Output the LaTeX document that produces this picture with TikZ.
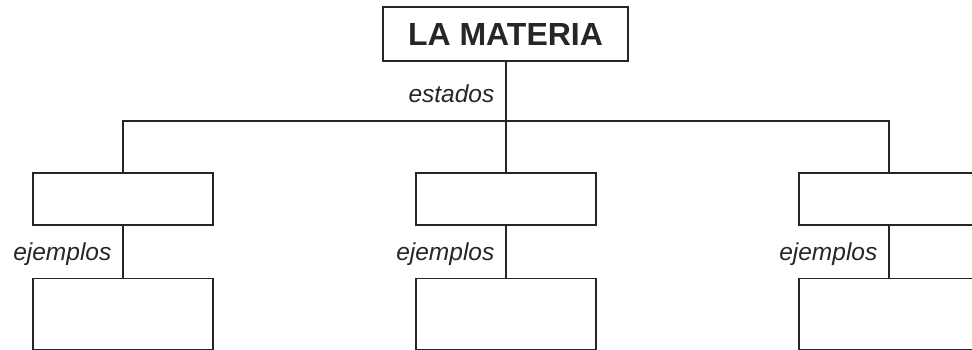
\documentclass[tikz,border=0pt]{standalone}
\usepackage{fontspec}
\setmainfont{Liberation Sans}
\usetikzlibrary{positioning}
\tikzset{
    block/.style = {draw, rectangle, line width=1.6pt, color=black!85,
        minimum width=180pt, inner sep=0pt},
    upper/.style = {block, minimum height=52pt},
    lower/.style = {block, minimum height=71pt},
    title/.style = {draw, rectangle, line width=1.6pt, color=black!85,
        minimum width=245pt, minimum height=54pt, inner sep=0pt,
        font=\fontsize{32}{36}\selectfont\bfseries},
    link/.style = {draw, line width=1.3pt, color=black!85},
    tag/.style = {anchor=east, inner sep=0pt, xshift=-11pt, yshift=-2pt,
        font=\fontsize{24.5}{28}\selectfont\itshape}
}

\begin{document}
\begin{tikzpicture}[x=1pt, y=1pt]
        \useasboundingbox (0,0) rectangle (972,350);
        \clip (0,0) rectangle (972,350);
        \node [title] (materia) at (505.5,316) {LA MATERIA};
        \coordinate (split) at (506,229);
        % estados
        \node [upper] (state1) at (123,151) {};
        \node [upper] (state2) at (506,151) {};
        \node [upper] (state3) at (889,151) {};
        % ejemplos
        \node [lower, below=52pt of state1] (ex1) {};
        \node [lower, below=52pt of state2] (ex2) {};
        \node [lower, below=52pt of state3] (ex3) {};
        \draw [link] (materia.south -| split) -- node [tag, pos=0.5, yshift=0pt] {estados} (split);
        \draw [link] (state1) |- (split);
        \draw [link] (state3) |- (split);
        \draw [link] (split) -- (state2);
        \foreach \i in {1,2,3}{
            \draw [link] (state\i) -- node [tag] {ejemplos} (ex\i);
        }
    \end{tikzpicture}
\end{document}
